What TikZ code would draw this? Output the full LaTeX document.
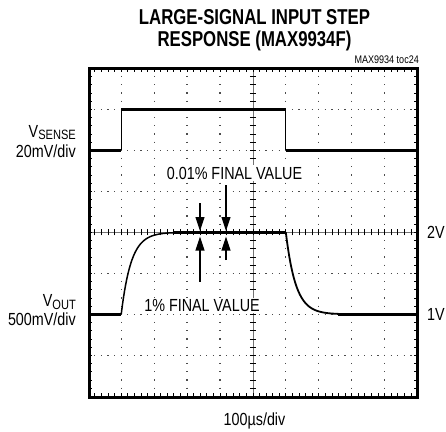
\documentclass[tikz,border=0pt]{standalone}
\usepackage{fontspec}
\setmainfont{Liberation Sans}[FakeStretch=0.82]
\newfontfamily\titlefont{Liberation Sans}[FakeStretch=0.78]
\usetikzlibrary{arrows.meta}

\newcommand{\lowsub}[1]{\raisebox{-2.5pt}{\fontsize{13.5}{14}\selectfont #1}}

\begin{document}
\begin{tikzpicture}[x=1pt,y=-1pt,
        label text/.style={font=\fontsize{17.5}{18}\selectfont, inner sep=0pt},
        marker text/.style={label text, fill=white, inner sep=1.5pt},
        title text/.style={font=\titlefont\fontsize{21.5}{22}\selectfont\bfseries, inner sep=0pt},
        pointer/.style={-{Triangle[length=14pt,width=9pt]}, line width=1.1pt},
        trace/.style={line width=2.6pt},
        edge trace/.style={line width=0.9pt},
        minor tick/.style={line width=0.8pt},
        axis line/.style={line width=0.7pt, black!55},
        hdots/.style={line width=1.2pt, black!70, dash pattern=on 1.2pt off 5.384pt, dash phase=0.6pt},
        vdots/.style={line width=1.2pt, black!70, dash pattern=on 1.2pt off 7pt, dash phase=0.6pt}]

    \useasboundingbox (0,0) rectangle (446,431);

    % titles
    \node[title text, anchor=base] (title) at (254.5,24.5) {LARGE-SIGNAL INPUT STEP};
    \node[title text, anchor=base] (subtitle) at (254.5,46.5) {RESPONSE (MAX9934F)};
    \node[font=\fontsize{11}{12}\selectfont, anchor=base east, inner sep=0pt] (tocref) at (419,63.5) {MAX9934 toc24};

    % scope screen, one unit = one division
    \begin{scope}[shift={(88.3,68.3)}, x=32.92pt, y=-41pt]
        \foreach \row in {1,2,3,5,6,7}
            \draw[hdots] (0,\row) -- (10,\row);
        \foreach \col in {1,2,3,4,6,7,8,9}
            \draw[vdots] (\col,0) -- (\col,8);

        \draw[axis line] (0,4) -- (10,4);
        \draw[axis line] (5,0) -- (5,8);
        \foreach \i in {1,...,49} {
            \draw[minor tick] (\i/5,4) ++(0,-3pt) -- ++(0,6pt);
            \draw[minor tick] (\i/5,0) -- ++(0,-3.5pt);
            \draw[minor tick] (\i/5,8) -- ++(0,3.5pt);
        }
        \foreach \j in {1,...,39} {
            \draw[minor tick] (5,\j/5) ++(-3pt,0) -- ++(6pt,0);
            \draw[minor tick] (0,\j/5) -- ++(3.5pt,0);
            \draw[minor tick] (10,\j/5) -- ++(-3.5pt,0);
        }

        % V_SENSE
        \draw[trace] (0,2) -- (1,2) (1,1) -- (6,1) (6,2) -- (10,2);
        \draw[edge trace] (1,2) -- (1,1) (6,1) -- (6,2);

        % V_OUT
        \draw[trace] (0,6) -- (1,6);
        \draw[line width=1.5pt, domain=1:6, samples=150] plot (\x, {6-2*(1-exp(-(\x-1)/0.3))});
        \draw[trace] (2.6,4) -- (6,4);
        \draw[line width=1.8pt, domain=6:10, samples=150] plot (\x, {4+2*(1-exp(-(\x-6)/0.3))});
        \draw[trace] (7.6,6) -- (10,6);
    \end{scope}

    \draw[line width=2.6pt] (89.5,68.7) rectangle (417.5,397.2);

    % settling markers
    \node[marker text, anchor=base] (fine) at (234.5,179) {0.01\% FINAL VALUE};
    \node[marker text, anchor=base] (coarse) at (202,311.7) {1\% FINAL VALUE};

    \coordinate (downA) at (200,203.3);
    \coordinate (downB) at (226,185);
    \coordinate (upA) at (200,281.7);
    \coordinate (upB) at (226,260);
    \coordinate (hitA) at (200,231);
    \coordinate (hitB) at (226,231);
    \coordinate (hitC) at (200,236.5);
    \coordinate (hitD) at (226,236.5);
    \path[pointer]
    (downA) edge (hitA)
    (downB) edge (hitB)
    (upA) edge (hitC)
    (upB) edge (hitD);

    % labels
    \node[label text, anchor=base east] (vsense) at (76,137) {V\lowsub{SENSE}};
    \node[label text, anchor=base east] (vsensediv) at (76,157) {20mV/div};
    \node[label text, anchor=base east] (vout) at (76,306.5) {V\lowsub{OUT}};
    \node[label text, anchor=base east] (voutdiv) at (76,325) {500mV/div};
    \node[label text, anchor=base west] (twovolt) at (427,238.3) {2V};
    \node[label text, anchor=base west] (onevolt) at (427,320.5) {1V};
    \node[label text, anchor=base] (timebase) at (254.5,425) {100µs/div};

\end{tikzpicture}
\end{document}
